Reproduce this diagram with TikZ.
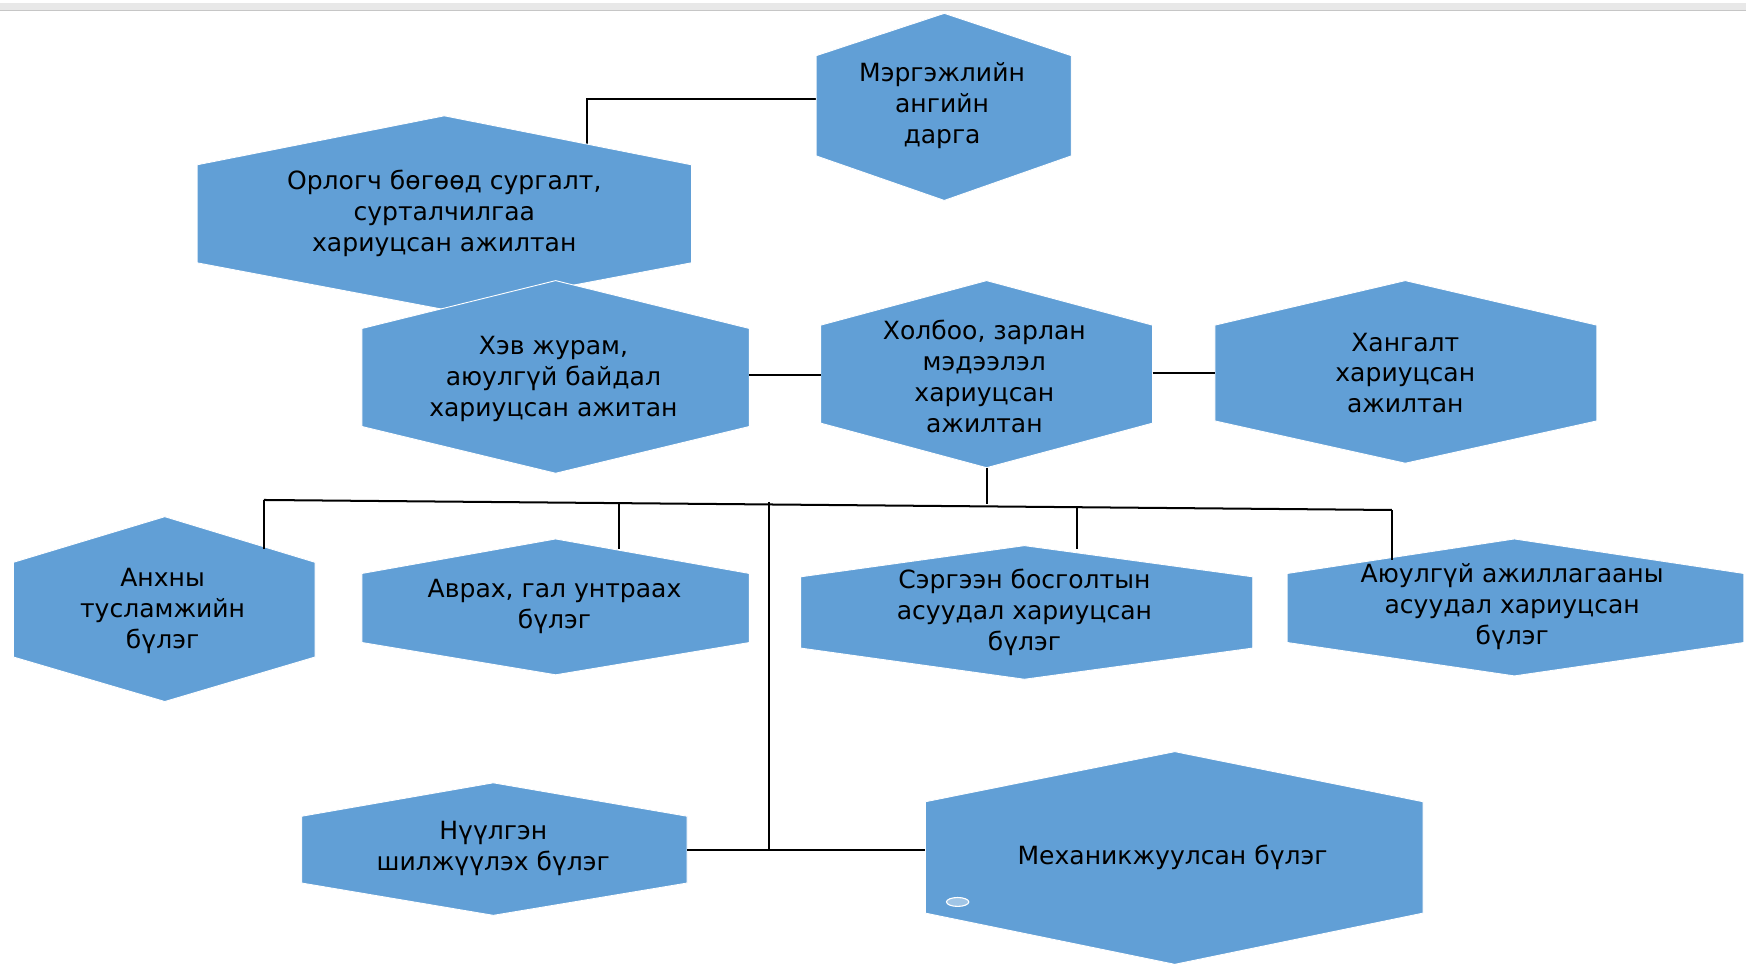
\documentclass[tikz,border=0pt]{standalone}
\usepackage{fontspec}
\setmainfont{DejaVu Sans}
\definecolor{hexblue}{RGB}{97,159,214}
\tikzset{
  hexfill/.style={fill=hexblue, draw=white, line width=0.8pt},
  lbl/.style={align=center, inner sep=0pt, font=\fontsize{22.5}{27.8}\selectfont, text=black},
  conn/.style={draw=black, line width=1.8pt},
}
% name, cx, left, right, top, shoulder1, shoulder2, bottom
\newcommand\hexa[8]{%
  \path[hexfill] (#3,#6) -- (#2,#5) -- (#4,#6) -- (#4,#7) -- (#2,#8) -- (#3,#7) -- cycle;
  \coordinate (#1-t) at (#2,#5);
  \coordinate (#1-b) at (#2,#8);
}
\begin{document}
\begin{tikzpicture}[x=1pt,y=-1pt]
\useasboundingbox (0,0) rectangle (1568,865);
\fill[white] (0,0) rectangle (1568,865);
% top window bar
\fill[gray!18] (0,3) rectangle (1568,10);
\draw[gray!45, line width=1pt] (0,9.5) -- (1568,9.5);

% connector top: chief to deputy
\coordinate (oj) at (527,129);
\coordinate (mj) at (733,89);
\draw[conn] (mj) -| (oj);

% hexagons
\hexa{m}{848}{733}{962}{12}{50}{140}{180}
\hexa{o}{399}{177}{621}{104}{148}{236}{278}
\hexa{h}{499}{325}{673}{252}{295}{383}{425}
\hexa{x}{886}{737}{1035}{252}{292}{380}{420}
\hexa{g}{1262}{1091}{1434}{252}{292}{378}{416}

\node[lbl] (mt) at (846,95) {Мэргэжлийн\\ангийн\\дарга};
\node[lbl] (ot) at (399,192) {Орлогч бөгөөд сургалт,\\сурталчилгаа\\хариуцсан ажилтан};
\node[lbl] (ht) at (497,340) {Хэв журам,\\аюулгүй байдал\\хариуцсан ажитан};
\node[lbl] (xt) at (884,338) {Холбоо, зарлан\\мэдээлэл\\хариуцсан\\ажилтан};
\node[lbl] (gt) at (1262,335) {Хангалт\\хариуцсан\\ажилтан};

\coordinate (hr) at (673,337);
\coordinate (xl) at (737,337);
\coordinate (xr) at (1035,335);
\coordinate (gl) at (1091,335);
\draw[conn] (hr) -- (xl);
\draw[conn] (xr) -- (gl);

% bus
\coordinate (bl) at (237,449);
\coordinate (br) at (1250,458);
\coordinate (bx) at (886,452.2);
\coordinate (b1) at (556,451.5);
\coordinate (b2) at (691,450.6);
\coordinate (b3) at (967,456.5);
\draw[conn] (x-b) -- (bx);
\draw[conn] (bl) -- (br);

\hexa{a}{148}{12}{283}{464}{505}{590}{630}
\hexa{v}{499}{325}{673}{484}{515}{577}{606}
\hexa{s}{920}{719}{1125}{490}{518}{582}{610}
\hexa{y}{1360}{1156}{1566}{484}{515}{577}{607}
\hexa{n}{443}{271}{617}{703}{733}{793}{822}
\hexa{k}{1055}{831}{1278}{675}{720}{820}{866}

\coordinate (aj) at (237,493);
\coordinate (vj) at (556,493);
\coordinate (sj) at (967,493);
\coordinate (yj) at (1250,503);
\coordinate (lj) at (691,763);
\coordinate (nr) at (617,763);
\coordinate (kl) at (831,763);
\draw[conn] (bl) -- (aj);
\draw[conn] (b1) -- (vj);
\draw[conn] (b3) -- (sj);
\draw[conn] (br) -- (yj);
\draw[conn] (b2) -- (lj);
\draw[conn] (nr) -- (kl);

\node[lbl] (at) at (146,549) {Анхны\\тусламжийн\\бүлэг};
\node[lbl] (vt) at (498,545) {Аврах, гал унтраах\\бүлэг};
\node[lbl] (st) at (920,550) {Сэргээн босголтын\\асуудал хариуцсан\\бүлэг};
\node[lbl] (yt) at (1358,545) {Аюулгүй ажиллагааны\\асуудал хариуцсан\\бүлэг};
\node[lbl] (nt) at (443,762) {Нүүлгэн\\шилжүүлэх бүлэг};
\node[lbl] (kt) at (1053,770) {Механикжуулсан бүлэг};

% small handle mark
\draw[white, fill=hexblue!60!white, line width=1pt] (860,810) ellipse (10 and 4);
\end{tikzpicture}
\end{document}
